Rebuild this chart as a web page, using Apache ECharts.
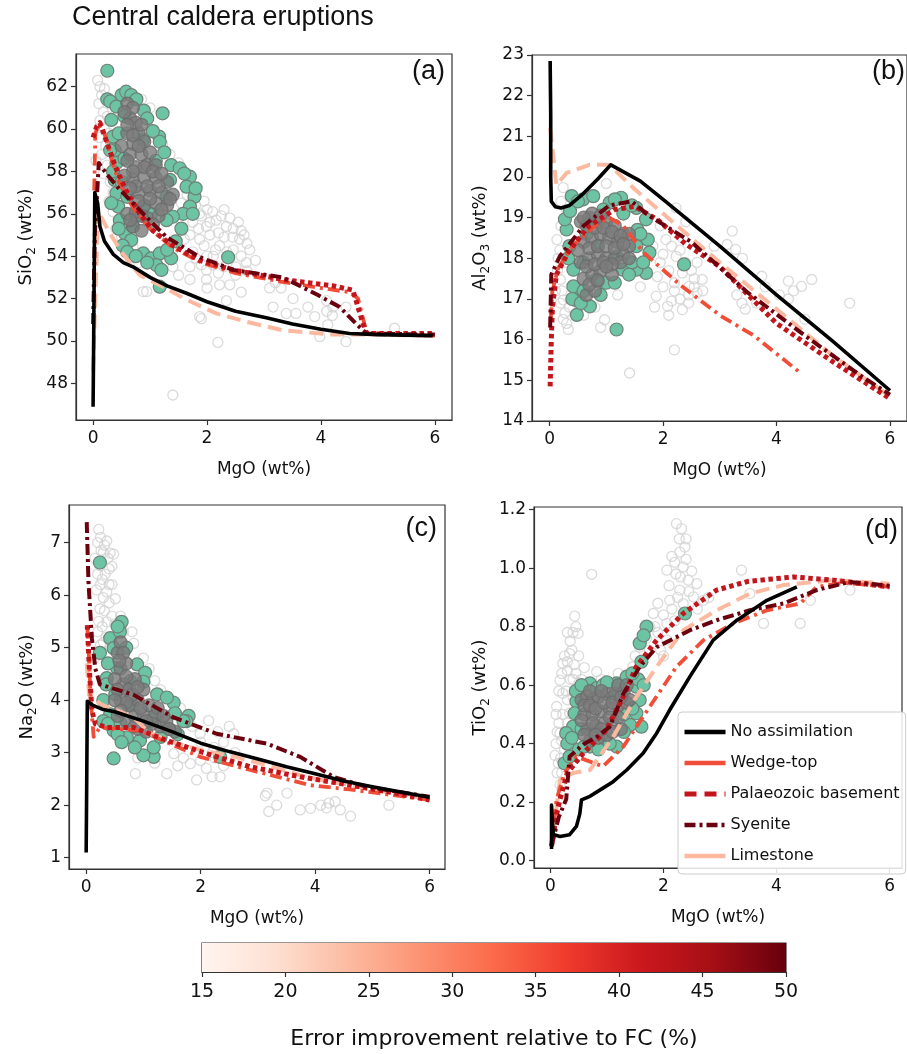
<!DOCTYPE html>
<html><head><meta charset="utf-8">
<script src="https://cdn.jsdelivr.net/npm/echarts@6/dist/echarts.min.js"></script>
<style>html,body{margin:0;padding:0;background:#fff}#c{width:907px;height:1054px}</style>
</head><body><div id="c"></div>
<script>
// ---------- DATA ----------
const xTicks = [0, 2, 4, 6];
const aTicks = [48, 50, 52, 54, 56, 58, 60, 62];
const bTicks = [14, 15, 16, 17, 18, 19, 20, 21, 22, 23];
const cTicks = [1, 2, 3, 4, 5, 6, 7];
const dTicks = [0, 0.2, 0.4, 0.6, 0.8, 1.0, 1.2];
const cbTicks = [15, 20, 25, 30, 35, 40, 45, 50];
const cbEdges = [[15, 1], [50, 1]];

// Panel (a) SiO2 vs MgO
const aGrey = [[0.08,62.3],[0.12,62.0],[0.15,61.6],[0.1,61.2],[0.18,60.8],[0.12,60.4],[0.2,60.0],[0.1,59.6],[0.22,59.2],[0.15,58.8],[0.25,58.3],[0.18,57.9],[0.3,57.5],[0.35,57.0],[0.28,56.6],[0.45,55.6],[0.55,54.6],[0.7,54.45],
 [0.95,60.16],[1.05,59.8],[1.22,59.3],[1.35,58.8],[1.5,58.4],[1.63,56.15],[1.75,55.6],[1.9,55.9],
 [1.87,56.0],[1.99,55.4],[2.16,55.7],[2.34,55.4],[2.46,55.3],[2.57,54.8],[2.46,54.3],[2.22,54.5],[2.11,54.0],[1.87,54.8],[1.75,54.2],[2.69,53.7],[2.51,53.5],[1.99,53.35],[1.7,53.5],[2.05,55.0],[2.3,54.9],[2.6,55.2],[2.4,53.9],[2.2,53.2],[2.75,54.3],[1.6,54.8],[2.0,56.2],
 [1.55,56.5],[1.65,56.9],[1.8,56.4],[1.95,56.6],[2.1,56.1],[2.25,55.9],[2.4,55.8],[2.55,55.6],[2.65,55.0],[2.7,54.6],[2.6,54.0],[2.35,54.2],[2.15,54.3],[1.95,54.5],[1.8,53.9],[1.9,53.6],[2.1,53.6],[2.3,53.5],[2.5,53.1],[2.7,53.3],[2.85,53.8],[2.0,54.0],[2.2,55.1],[2.45,54.9],[1.7,55.0],[1.85,55.3],[2.05,55.6],[2.3,56.2],
 [0.2,61.9],[0.22,61.4],[0.25,60.6],[0.28,59.8],[0.05,58.5],[0.32,58.0],[0.35,56.1],[0.4,55.3],[0.5,54.9],[0.65,53.9],[0.8,53.7],[1.4,53.5],[1.5,53.1],[1.7,52.9],[1.0,61.0],[0.85,61.4],
 [0.88,52.33],[0.94,52.33],[1.87,51.15],[1.9,51.05],[1.4,47.45],[2.19,49.93],[2.34,51.9],[1.99,52.9],[2.22,52.65],[2.4,52.65],[3.1,52.5],[3.2,52.75],[3.3,52.5],[3.51,52.0],[3.16,51.6],[3.39,51.3],[3.56,51.3],[3.77,51.6],[3.89,51.15],[4.1,51.9],[4.21,51.6],[4.1,51.4],[4.2,51.2],[4.44,51.6],[4.12,50.76],[3.98,50.2],[4.44,49.97],[5.29,50.6],[2.6,52.3],[2.0,52.5]];
const aGreen = [[0.25,62.75],[0.25,61.4],[0.3,61.3],[0.5,61.6],[0.58,61.76],[0.67,61.6],[0.76,61.4],[0.89,60.87],[1.22,60.74],[1.16,59.64],[1.17,59.4],[0.41,61.06],[0.32,60.43],[0.35,59.64],[0.38,59.0],[0.41,58.4],[0.38,57.6],[0.41,56.97],[0.44,56.34],[0.47,55.7],[0.56,55.08],[0.67,54.76],[0.88,54.13],[1.02,53.9],[1.17,54.13],[1.11,53.58],[1.2,53.35],[1.17,52.56],[1.37,53.9],[2.37,53.95],[1.37,58.3],[1.52,58.15],[1.7,57.75],[1.64,57.28],[1.78,56.8],[1.7,56.34],[1.58,56.0],[1.4,55.86],[1.29,55.7],[1.02,56.0],[0.88,56.34],[0.75,55.9],[0.7,55.4],[1.29,56.8],[1.35,57.6],[1.1,58.5],[0.88,59.5],[0.55,60.6],[0.5,57.5],[0.55,58.6],[0.6,56.8],[0.45,59.8],
 [0.45,55.3],[0.52,54.5],[0.6,54.2],[0.75,54.0],[0.95,53.7],[1.3,54.3],[1.45,54.7],[1.55,55.3],[1.75,56.0],[1.8,57.2],[1.6,57.9],[1.25,58.9],[1.05,59.9],[0.95,60.5],[0.3,59.0],[0.35,58.0],[0.32,56.5]];
const aCore = [[0.6,61.2],[0.7,61.0],[0.65,60.5],[0.75,60.3],[0.6,59.8],[0.8,59.8],[0.7,59.3],[0.9,59.4],[0.65,58.8],[0.85,58.8],[1.0,58.9],[0.75,58.2],[0.95,58.3],[1.1,58.3],[0.7,57.6],[0.9,57.7],[1.1,57.7],[1.3,57.5],[0.8,57.0],[1.0,57.1],[1.2,57.0],[1.4,56.9],[0.9,56.4],[1.1,56.5],[1.3,56.4],[0.95,55.8],[1.15,55.9],[0.6,56.0],[0.7,55.4],[0.85,55.2],
 [0.55,60.8],[0.6,60.2],[0.7,59.7],[0.8,59.2],[0.85,60.2],[0.9,58.2],[1.05,58.0],[1.2,57.9],[0.75,57.3],[0.95,57.3],[1.15,57.3],[1.35,56.7],[0.8,56.6],[1.0,56.7],[1.2,56.2],[0.85,55.9],[1.05,55.5],[0.75,56.1],[0.65,57.2],[0.6,58.5],[0.7,58.0],[0.5,59.2],[0.55,57.8],[0.65,55.7]];
const aNoAssim = [[0,46.9],[0.01,50],[0.03,57.0],[0.08,56.5],[0.12,55.4],[0.2,54.7],[0.35,54.1],[0.53,53.7],[0.7,53.5],[1.0,53.0],[1.3,52.6],[1.64,52.25],[2.0,51.85],[2.5,51.4],[3.04,51.1],[3.5,50.8],[4.0,50.55],[4.5,50.35],[5.0,50.3],[5.96,50.25]];
const aWedge = [[0.02,57.1],[0.04,59.8],[0.1,60.2],[0.2,59.8],[0.32,58.6],[0.45,57.5],[0.7,56.3],[1.0,55.3],[1.4,54.4],[1.9,53.7],[2.5,53.2],[3.3,52.8],[4.0,52.5],[4.5,52.3],[4.65,52.0],[4.8,50.4],[5.2,50.3],[6.0,50.25]];
const aPalaeo = [[0.0,59.6],[0.06,60.1],[0.12,60.3],[0.29,59.0],[0.41,58.1],[0.58,57.1],[0.82,56.0],[1.05,55.2],[1.4,54.5],[1.87,53.8],[2.46,53.35],[3.33,52.9],[4.21,52.6],[4.56,52.4],[4.74,50.8],[4.8,50.35],[6.0,50.35]];
const aSyenite = [[0.0,50.8],[0.03,55],[0.1,58.4],[0.23,57.9],[0.45,57.2],[0.7,56.5],[0.99,55.7],[1.29,54.9],[1.87,53.96],[2.46,53.35],[3.33,53.0],[3.92,52.2],[4.33,51.6],[4.62,50.8],[4.8,50.35],[6.0,50.3]];
const aLime = [[0,48.6],[0.05,53],[0.09,56.2],[0.15,55.8],[0.29,55.1],[0.5,54.2],[0.82,53.1],[1.2,52.6],[1.6,52.0],[2.16,51.3],[2.7,50.9],[3.33,50.5],[4.2,50.3],[5.0,50.3],[6.0,50.25]];

// Panel (b) Al2O3 vs MgO
const bGrey = [[0.24,19.74],[1.0,19.84],[2.23,19.24],[3.22,18.67],[3.13,18.34],[3.28,18.22],[3.74,17.56],[4.21,17.44],[4.44,17.31],[4.62,17.48],[4.3,17.2],[4.05,17.1],[4.21,17.0],[3.39,16.9],[3.45,16.75],[5.29,16.9],[1.88,17.07],[2.08,16.82],[2.34,16.74],[2.69,17.48],[2.55,17.3],[2.45,17.1],[2.2,15.75],[1.41,15.18],[0.97,16.49],[0.33,16.25],[0.24,16.5],[0.19,16.9],[1.82,18.3],[2.05,18.46],[2.23,18.05],[2.34,17.64],[2.5,17.7],[2.46,17.31],[2.1,17.7],[1.95,17.9],[2.35,18.5],[2.6,17.9],[2.2,17.4],[0.13,18.46],[0.19,17.48],[0.24,16.98],[0.27,16.66],[0.15,18.0],[0.2,18.8],[0.3,19.2],[0.1,17.2],[3.65,16.9],[3.8,17.3],[4.5,16.5],[2.9,18.3],[1.6,17.3],[1.2,17.1],[0.8,16.8],
 [2.0,18.1],[2.15,18.3],[2.3,18.2],[2.4,17.9],[2.55,17.5],[2.3,17.0],[2.15,16.95],[2.0,17.3],[1.9,17.55],[2.6,17.15],[2.7,17.2],[2.45,16.9],[2.2,17.2],[2.1,16.6],[1.85,16.8],[0.18,18.2],[0.14,17.7],[0.22,17.2],[0.28,17.9],[0.2,19.4],[0.3,16.4],[0.35,16.8],[1.95,18.8],[2.4,18.9],[3.3,17.1],[3.4,18.0],[0.6,16.6],[0.9,16.3]];
const bGreen = [[0.39,19.53],[0.59,19.45],[0.77,19.53],[1.06,19.37],[1.26,19.49],[1.53,19.24],[1.7,18.96],[1.73,18.46],[1.76,18.14],[1.7,17.64],[1.53,17.72],[1.29,17.72],[1.0,17.4],[0.83,17.48],[0.71,16.82],[0.48,16.61],[0.45,16.98],[0.42,17.31],[0.42,17.72],[0.3,18.71],[0.27,18.96],[0.36,19.16],[1.18,16.25],[2.37,17.85],[0.95,19.2],[1.3,19.1],[1.55,18.7],[1.53,18.3],[1.18,18.05],[0.85,18.3],[0.65,18.6],[0.6,17.9],[0.35,18.3],[1.45,17.9],
 [0.33,18.0],[0.4,17.0],[0.55,16.9],[0.6,17.2],[0.9,17.1],[1.15,17.4],[1.4,17.6],[1.65,17.9],[1.6,18.6],[1.45,19.3],[1.15,19.45],[0.5,19.4]];
const bCore = [[0.55,18.9],[0.7,19.0],[0.85,18.9],[1.0,18.9],[1.15,18.8],[1.3,18.6],[0.6,18.4],[0.75,18.5],[0.9,18.6],[1.05,18.5],[1.2,18.4],[1.4,18.3],[0.55,17.9],[0.7,18.0],[0.85,18.1],[1.0,18.0],[1.15,18.0],[1.3,18.1],[0.6,17.5],[0.75,17.6],[0.9,17.7],[1.1,17.6],[1.25,17.9],[0.65,17.1],[0.8,17.2],[1.4,18.6],[0.5,18.2],
 [0.65,18.8],[0.8,18.75],[0.95,18.75],[1.1,18.65],[1.25,18.55],[0.7,18.25],[0.85,18.3],[1.0,18.3],[1.15,18.25],[1.3,18.35],[0.65,17.8],[0.8,17.85],[0.95,17.9],[1.1,17.85],[0.7,17.35],[0.85,17.45],[1.0,17.8],[1.4,18.0],[0.75,19.1],[0.6,19.0],[0.9,19.05]];
const bNoAssim = [[0.01,22.85],[0.02,21.5],[0.02,20.0],[0.03,19.4],[0.1,19.27],[0.2,19.24],[0.35,19.3],[0.6,19.6],[0.85,19.95],[1.08,20.3],[1.6,19.9],[2.0,19.45],[3.0,18.3],[4.0,17.1],[5.0,15.95],[6.0,14.75]];
const bWedge = [[0.02,16.5],[0.05,17.2],[0.15,17.75],[0.4,18.3],[0.8,18.8],[1.05,19.0],[1.3,18.8],[1.65,18.15],[2.3,17.35],[3.0,16.6],[3.6,16.1],[4.45,15.15]];
const bPalaeo = [[0.01,14.85],[0.03,16],[0.05,16.8],[0.12,17.6],[0.35,18.2],[0.7,18.8],[1.15,19.2],[1.5,19.28],[1.9,18.95],[2.4,18.35],[3.0,17.8],[4.0,16.4],[5.0,15.45],[6.0,14.55]];
const bSyenite = [[0.01,16.3],[0.03,17.6],[0.18,18.05],[0.6,18.8],[1.05,19.3],[1.45,19.4],[1.75,19.05],[2.5,18.4],[3.5,17.15],[4.5,16.1],[5.5,15.1],[6.0,14.65]];
const bLime = [[0.01,21.2],[0.05,20.7],[0.12,19.8],[0.3,20.1],[0.7,20.3],[1.05,20.3],[1.5,19.7],[2.0,19.1],[3.0,17.9],[4.0,16.75],[5.0,15.6],[6.0,14.6]];

// Panel (c) Na2O vs MgO
const cGrey = [[0.22,7.25],[0.36,7.03],[0.3,6.81],[0.42,6.8],[0.48,6.78],[0.24,6.56],[0.4,6.5],[0.51,5.93],[0.36,6.06],[0.24,5.74],[0.36,5.49],[0.83,5.08],[1.2,4.37],[2.14,3.61],[1.99,3.36],[1.41,2.6],[0.86,2.6],[1.93,2.48],[2.2,2.54],[2.34,2.54],[1.82,2.79],[2.0,2.85],[2.25,2.9],[3.16,2.23],[3.13,2.18],[3.19,1.88],[3.33,2.0],[3.51,2.23],[3.74,1.91],[3.92,1.94],[4.1,2.0],[4.24,2.04],[4.35,2.07],[4.44,1.91],[4.62,1.79],[4.2,1.95],[5.29,2.0],[2.58,3.36],[2.23,3.1],[1.53,2.98],[0.2,7.0],[0.15,6.7],[0.28,6.3],[0.18,6.1],[0.32,5.7],[0.2,5.3],[0.45,6.2],[0.4,5.85],[0.3,5.1],[0.6,5.6],[0.55,5.2],[0.7,4.95],[0.15,4.8],[2.4,3.2],[2.6,3.0],[1.7,2.9],
 [0.25,7.1],[0.32,6.95],[0.38,6.7],[0.26,6.85],[0.2,6.4],[0.33,6.4],[0.45,6.55],[0.25,6.2],[0.4,6.2],[0.3,5.95],[0.22,5.5],[0.45,5.6],[0.28,5.4],[0.35,5.2],[0.5,5.45],[0.25,5.05],[0.42,5.0],[0.65,5.3],[0.8,5.3],[1.0,4.8],[1.1,4.6],[1.3,4.2],[1.5,4.0],[1.65,3.85],[1.85,3.5],[2.0,3.2],[2.3,3.4],[2.1,2.7],[2.4,2.75],[1.6,2.75],[1.2,2.8],[0.9,2.9],[2.5,3.5],[2.2,3.0]];
const cGreen = [[0.24,6.62],[0.24,4.9],[0.36,4.42],[0.42,5.18],[0.48,4.99],[0.62,5.49],[0.59,5.3],[0.54,4.61],[0.51,4.11],[0.42,3.73],[0.3,3.6],[0.48,3.42],[0.71,3.29],[0.94,3.23],[1.18,2.92],[1.0,2.95],[1.18,3.1],[0.48,2.89],[0.89,4.68],[1.03,4.52],[1.24,4.11],[1.53,3.95],[1.41,4.05],[1.79,3.7],[1.24,3.73],[0.77,4.36],[1.12,3.6],[1.75,3.6],[0.35,4.3],[0.6,3.55],[0.8,3.9],[1.45,3.45],[2.34,2.92],
 [0.3,4.0],[0.38,3.55],[0.55,3.35],[0.62,3.2],[0.85,3.1],[1.3,3.3],[1.6,3.35],[1.7,3.6],[1.55,3.75],[1.0,4.35],[0.7,5.0],[0.55,5.4],[0.38,4.7]];
const cCore = [[0.55,4.9],[0.6,4.6],[0.7,4.7],[0.65,4.3],[0.75,4.2],[0.85,4.4],[0.6,4.0],[0.75,3.9],[0.9,4.0],[1.0,4.2],[0.7,3.6],[0.85,3.7],[1.0,3.75],[1.1,3.9],[1.2,3.7],[1.3,3.5],[0.9,3.45],[1.05,3.4],[1.4,3.6],[1.55,3.4],[0.55,3.7],[0.6,5.1],[0.5,4.4],
 [0.55,4.2],[0.65,4.9],[0.7,4.45],[0.8,4.1],[0.95,3.85],[0.7,3.95],[0.85,3.5],[1.15,3.55],[1.25,3.85],[1.35,3.7],[0.6,3.8],[0.5,4.0],[0.58,4.75],[0.9,4.25],[1.05,3.6],[1.45,3.45]];
const cNoAssim = [[0,1.1],[0.01,2.5],[0.02,3.98],[0.12,3.9],[0.3,3.82],[0.5,3.78],[1.0,3.6],[1.5,3.4],[2.0,3.18],[2.5,3.02],[3.0,2.88],[3.5,2.73],[4.0,2.6],[4.5,2.46],[5.0,2.35],[5.5,2.25],[6.0,2.15]];
const cWedge = [[0.02,5.4],[0.05,4.8],[0.08,4.0],[0.13,3.3],[0.24,3.48],[0.94,3.42],[1.99,2.92],[2.87,2.67],[3.92,2.38],[4.6,2.3],[5.3,2.2],[6.0,2.1]];
const cPalaeo = [[0.02,5.43],[0.06,4.5],[0.1,3.8],[0.16,3.55],[0.36,3.48],[0.83,3.48],[1.41,3.23],[2.11,2.98],[2.87,2.73],[3.74,2.54],[4.62,2.38],[5.3,2.25],[6.0,2.1]];
const cSyenite = [[0.01,7.39],[0.04,6.25],[0.1,5.18],[0.16,4.6],[0.24,4.3],[0.42,4.24],[0.83,4.1],[1.53,3.67],[2.28,3.36],[3.16,3.17],[3.74,2.92],[4.32,2.54],[4.9,2.35],[6.0,2.16]];
const cLime = [[0.01,4.7],[0.05,4.1],[0.15,4.0],[0.3,3.9],[0.6,3.78],[0.85,3.65],[1.1,3.38],[1.5,3.2],[2.0,3.05],[2.6,2.92],[3.2,2.75],[3.8,2.55],[4.4,2.42],[5.0,2.3],[6.0,2.12]];

// Panel (d) TiO2 vs MgO
const dGrey = [[0.43,0.836],[0.45,0.8],[0.4,0.78],[0.49,0.777],[0.34,0.708],[0.22,0.674],[0.17,0.617],[0.22,0.572],[0.11,0.527],[0.34,0.504],[0.17,0.436],[0.14,0.333],[0.17,0.26],[0.73,0.979],[0.82,0.646],[0.3,0.65],[0.4,0.62],[0.28,0.58],[0.5,0.7],[0.15,0.47],[0.25,0.38],[0.1,0.4],[0.2,0.3],[2.23,1.152],[2.32,1.135],[2.29,1.055],[2.38,1.072],[2.06,0.993],[2.22,0.98],[2.35,1.004],[2.44,0.959],[2.29,0.925],[2.11,0.89],[2.35,0.879],[2.53,0.902],[2.59,0.947],[2.06,0.811],[1.82,0.845],[1.76,0.8],[1.58,0.73],[1.46,0.663],[2.06,0.754],[2.71,0.89],[3.38,0.993],[3.53,0.913],[3.77,0.811],[4.42,0.811],[4.6,0.89],[5.3,0.925],[2.2,0.82],[1.95,0.72],[1.3,0.62],[2.4,1.03],[2.15,1.04],[1.9,0.78],[0.9,0.62],
 [0.3,0.78],[0.35,0.75],[0.38,0.72],[0.25,0.7],[0.3,0.68],[0.42,0.67],[0.2,0.64],[0.35,0.62],[0.45,0.64],[0.15,0.58],[0.3,0.55],[0.4,0.56],[0.1,0.5],[0.22,0.5],[0.3,0.47],[0.12,0.44],[0.2,0.41],[0.08,0.36],[0.18,0.35],[0.12,0.3],[0.6,0.66],[0.55,0.62],[1.2,0.64],[1.4,0.6],[1.5,0.7],[1.7,0.76],[1.85,0.8],[2.0,0.84],[2.15,0.86],[2.25,0.9],[2.45,0.92],[2.5,0.99],[2.3,0.97],[2.2,1.02],[2.4,1.1],[2.28,1.1],[2.1,0.94],[1.9,0.88],[2.0,0.7],[1.75,0.72],[2.6,0.86],[2.8,0.9]];
const dGreen = [[0.7,0.606],[0.46,0.544],[0.43,0.504],[0.4,0.458],[0.28,0.436],[0.25,0.333],[0.34,0.356],[0.82,0.59],[0.93,0.6],[1.17,0.606],[1.35,0.629],[1.52,0.595],[1.58,0.549],[1.61,0.458],[1.41,0.464],[1.17,0.39],[0.7,0.39],[1.7,0.8],[1.58,0.743],[1.61,0.68],[2.38,0.845],[1.52,0.504],[1.11,0.56],[0.55,0.45],[0.95,0.42],[0.5,0.38],[1.3,0.5],
 [0.3,0.4],[0.38,0.42],[0.45,0.58],[0.55,0.6],[0.6,0.39],[0.85,0.38],[1.05,0.4],[1.3,0.44],[1.45,0.52],[1.55,0.62],[1.45,0.64],[1.0,0.61],[1.65,0.77],[1.65,0.6]];
const dCore = [[0.55,0.55],[0.65,0.56],[0.75,0.55],[0.85,0.56],[1.0,0.57],[1.15,0.57],[1.3,0.58],[0.6,0.5],[0.75,0.5],[0.9,0.51],[1.05,0.52],[1.2,0.53],[1.35,0.54],[0.65,0.45],[0.8,0.46],[0.95,0.47],[1.1,0.47],[1.25,0.45],[0.7,0.41],[0.85,0.42],[1.0,0.43],[1.4,0.55],[0.55,0.48],
 [0.6,0.53],[0.7,0.53],[0.8,0.52],[0.95,0.54],[1.1,0.54],[1.25,0.56],[0.75,0.47],[0.9,0.45],[1.05,0.49],[1.2,0.49],[0.6,0.43],[0.8,0.43],[1.1,0.44],[0.7,0.58],[0.9,0.58],[1.2,0.6],[1.35,0.6]];
const dNoAssim = [[0.02,0.04],[0.02,0.19],[0.05,0.09],[0.17,0.083],[0.34,0.089],[0.46,0.117],[0.52,0.16],[0.55,0.208],[0.7,0.22],[0.93,0.248],[1.11,0.27],[1.35,0.31],[1.64,0.367],[1.88,0.436],[2.11,0.515],[2.47,0.63],[2.88,0.754],[3.3,0.822],[3.83,0.89],[4.36,0.936]];
const dWedge = [[0.02,0.05],[0.11,0.21],[0.25,0.3],[0.46,0.356],[0.93,0.322],[1.29,0.39],[1.76,0.527],[2.23,0.663],[2.71,0.754],[3.24,0.811],[3.83,0.856],[4.42,0.879],[4.71,0.936],[5.2,0.95],[6.0,0.936]];
const dPalaeo = [[0.02,0.05],[0.1,0.15],[0.17,0.21],[0.3,0.3],[0.58,0.367],[0.99,0.447],[1.29,0.56],[1.52,0.663],[1.88,0.754],[2.35,0.845],[2.94,0.925],[3.5,0.955],[4.3,0.97],[5.0,0.959],[6.0,0.936]];
const dSyenite = [[0.02,0.05],[0.15,0.15],[0.28,0.21],[0.34,0.356],[0.6,0.4],[0.8,0.42],[1.05,0.458],[1.29,0.57],[1.58,0.663],[1.88,0.73],[2.47,0.788],[2.94,0.822],[3.53,0.856],[4.12,0.879],[4.71,0.925],[5.3,0.953],[6.0,0.94]];
const dLime = [[0.05,0.094],[0.17,0.276],[0.4,0.3],[0.7,0.31],[1.1,0.42],[1.52,0.56],[1.88,0.663],[2.35,0.788],[2.94,0.856],[3.53,0.913],[4.12,0.942],[5.0,0.959],[6.0,0.947]];

// ---------- STYLE / LAYOUT ----------
const FONT = 'DejaVu Sans';
const grids = [
  {left: 76, top: 54, width: 376, height: 366},
  {left: 532, top: 55, width: 378, height: 366},
  {left: 69, top: 505, width: 376, height: 364},
  {left: 534, top: 507, width: 368, height: 361},
  {left: 202, top: 943, width: 584, height: 29}
];
const lineStyles = {
  'No assimilation': {color: '#000000', type: 'solid', width: 3.6},
  'Wedge-top': {color: '#f04e38', type: [12, 5, 3, 5], width: 3.8},
  'Palaeozoic basement': {color: '#c3151c', type: [4.5, 3.5], width: 5},
  'Syenite': {color: '#6b010e', type: [11, 4, 3, 4], width: 4},
  'Limestone': {color: '#fcb99f', type: [14, 7], width: 4}
};
const panels = [
  {grey: aGrey, green: aGreen, core: aCore, lines: {'Limestone': aLime, 'Wedge-top': aWedge, 'Palaeozoic basement': aPalaeo, 'Syenite': aSyenite, 'No assimilation': aNoAssim},
   ymin: 46.27, ymax: 63.54, yTicks: aTicks, yName: 'SiO{s|2} (wt%)', yGap: 38, fmt: v => String(v), xmin: -0.3, xmax: 6.3},
  {grey: bGrey, green: bGreen, core: bCore, lines: {'Limestone': bLime, 'Wedge-top': bWedge, 'Palaeozoic basement': bPalaeo, 'Syenite': bSyenite, 'No assimilation': bNoAssim},
   ymin: 14, ymax: 23, yTicks: bTicks, yName: 'Al{s|2}O{s|3} (wt%)', yGap: 40, fmt: v => String(v), xmin: -0.31, xmax: 6.3},
  {grey: cGrey, green: cGreen, core: cCore, lines: {'Limestone': cLime, 'Wedge-top': cWedge, 'Palaeozoic basement': cPalaeo, 'Syenite': cSyenite, 'No assimilation': cNoAssim},
   ymin: 0.785, ymax: 7.715, yTicks: cTicks, yName: 'Na{s|2}O (wt%)', yGap: 30, fmt: v => String(v), xmin: -0.3, xmax: 6.27},
  {grey: dGrey, green: dGreen, core: dCore, lines: {'Limestone': dLime, 'Wedge-top': dWedge, 'Palaeozoic basement': dPalaeo, 'Syenite': dSyenite, 'No assimilation': dNoAssim},
   ymin: -0.025, ymax: 1.209, yTicks: dTicks, yName: 'TiO{s|2} (wt%)', yGap: 42, fmt: v => v.toFixed(1), xmin: -0.29, xmax: 6.22}
];

const xAxes = [], yAxes = [], series = [];
panels.forEach((p, i) => {
  xAxes.push({
    gridIndex: i, type: 'value', min: p.xmin, max: p.xmax,
    name: 'MgO (wt%)', nameLocation: 'middle', nameGap: 41,
    nameTextStyle: {fontSize: 17, fontFamily: FONT, color: '#111'},
    axisLine: {show: true, onZero: false, lineStyle: {color: '#333', width: 1.2}},
    axisTick: {show: true, length: 5, lineStyle: {color: '#333', width: 1.2}, customValues: xTicks},
    axisLabel: {fontSize: 17, fontFamily: FONT, color: '#111', margin: 10, customValues: xTicks},
    splitLine: {show: false}
  });
  yAxes.push({
    gridIndex: i, type: 'value', min: p.ymin, max: p.ymax,
    name: p.yName, nameLocation: 'middle', nameGap: p.yGap, nameRotate: 90,
    nameTextStyle: {fontSize: 18, fontFamily: FONT, color: '#111', lineHeight: 24,
      rich: {s: {fontSize: 12, fontFamily: FONT, color: '#111', verticalAlign: 'bottom', lineHeight: 24}}},
    axisLine: {show: true, onZero: false, lineStyle: {color: '#333', width: 1.2}},
    axisTick: {show: true, length: 5, lineStyle: {color: '#333', width: 1.2}, customValues: p.yTicks},
    axisLabel: {fontSize: 17, fontFamily: FONT, color: '#111', margin: 8, customValues: p.yTicks, formatter: p.fmt},
    splitLine: {show: false}
  });
  series.push({type: 'scatter', xAxisIndex: i, yAxisIndex: i, data: p.grey, symbolSize: 10, silent: true,
    itemStyle: {color: 'rgba(255,255,255,0)', borderColor: '#d2d2d2', borderWidth: 1.3}, z: 2});
  series.push({type: 'scatter', xAxisIndex: i, yAxisIndex: i, data: p.green, symbolSize: 13, silent: true,
    itemStyle: {color: '#6cc4a4', borderColor: '#6f8279', borderWidth: 1.2, opacity: 1}, z: 3});
  series.push({type: 'scatter', xAxisIndex: i, yAxisIndex: i, data: p.core, symbolSize: 13, silent: true,
    itemStyle: {color: '#7b7b7b', borderColor: '#6a6a6a', borderWidth: 1.2}, z: 3});
  Object.keys(p.lines).forEach(name => {
    const st = lineStyles[name];
    series.push({type: 'line', name: name, xAxisIndex: i, yAxisIndex: i, data: p.lines[name],
      symbol: 'none', smooth: false, silent: true, clip: true, z: 5,
      lineStyle: {color: st.color, type: st.type, width: st.width, cap: 'butt', join: 'round'},
      itemStyle: {color: st.color}});
  });
});

// colorbar axes
xAxes.push({
  gridIndex: 4, type: 'value', min: 15, max: 50, interval: 5,
  name: 'Error improvement relative to FC (%)', nameLocation: 'middle', nameGap: 56,
  nameTextStyle: {fontSize: 22, fontFamily: FONT, color: '#111'},
  axisLine: {show: true, onZero: false, lineStyle: {color: '#333', width: 1.2}},
  axisTick: {show: true, length: 5, lineStyle: {color: '#333', width: 1.2}, customValues: cbTicks},
  axisLabel: {fontSize: 19, fontFamily: FONT, color: '#111', margin: 11, customValues: cbTicks},
  splitLine: {show: false}
});
yAxes.push({gridIndex: 4, type: 'value', min: 0, max: 1, show: false, splitLine: {show: false}});
series.push({type: 'line', xAxisIndex: 4, yAxisIndex: 4, data: cbEdges, symbol: 'none', silent: true, z: 1,
  lineStyle: {width: 0, opacity: 0},
  areaStyle: {opacity: 1, color: new echarts.graphic.LinearGradient(0, 0, 1, 0, [
    {offset: 0, color: '#fff5f0'}, {offset: 0.125, color: '#fee0d2'}, {offset: 0.25, color: '#fcbba1'},
    {offset: 0.375, color: '#fc9272'}, {offset: 0.5, color: '#fb6a4a'}, {offset: 0.625, color: '#ef3b2c'},
    {offset: 0.75, color: '#cb181d'}, {offset: 0.875, color: '#a50f15'}, {offset: 1, color: '#67000d'}])}});

const gridOpts = grids.map(g => Object.assign({show: true, borderColor: '#333', borderWidth: 1.2, backgroundColor: 'transparent', containLabel: false}, g));

const lbl = (text, right, top) => ({text: text, right: right, top: top, padding: 0,
  textStyle: {fontSize: 27, fontWeight: 'normal', fontFamily: 'Liberation Sans', color: '#111'}});

const option = {
  animation: false,
  backgroundColor: '#ffffff',
  title: [
    {text: 'Central caldera eruptions', left: 72, top: 4, padding: 0,
     textStyle: {fontSize: 27, fontWeight: 'normal', fontFamily: 'Liberation Sans', color: '#111'}},
    lbl('(a)', 462, 58), lbl('(b)', 2, 58), lbl('(c)', 470, 515), lbl('(d)', 9, 517)
  ],
  grid: gridOpts,
  xAxis: xAxes,
  yAxis: yAxes,
  legend: {
    orient: 'vertical', left: 678, top: 712, padding: [12, 6, 10, 4],
    itemWidth: 41, itemHeight: 14, itemGap: 15,
    backgroundColor: 'rgba(255,255,255,0.85)', borderColor: '#cccccc', borderWidth: 1, borderRadius: 4,
    textStyle: {fontSize: 16, fontFamily: FONT, color: '#111'},
    itemStyle: {color: 'rgba(0,0,0,0)', borderColor: 'rgba(0,0,0,0)', borderWidth: 0, opacity: 0},
    data: [
      {name: 'No assimilation', lineStyle: {type: 'solid', width: 4.5}},
      {name: 'Wedge-top', lineStyle: {type: 'solid', width: 4.5}},
      {name: 'Palaeozoic basement', lineStyle: {type: [12, 8], width: 5}},
      {name: 'Syenite', lineStyle: {type: [11, 4, 3, 4], width: 4.5}},
      {name: 'Limestone', lineStyle: {type: 'solid', width: 4.5}}
    ],
    selectedMode: false
  },
  series: series
};
const chart = echarts.init(document.getElementById('c'), null, {renderer: 'canvas'});
chart.setOption(option);
</script></body></html>
